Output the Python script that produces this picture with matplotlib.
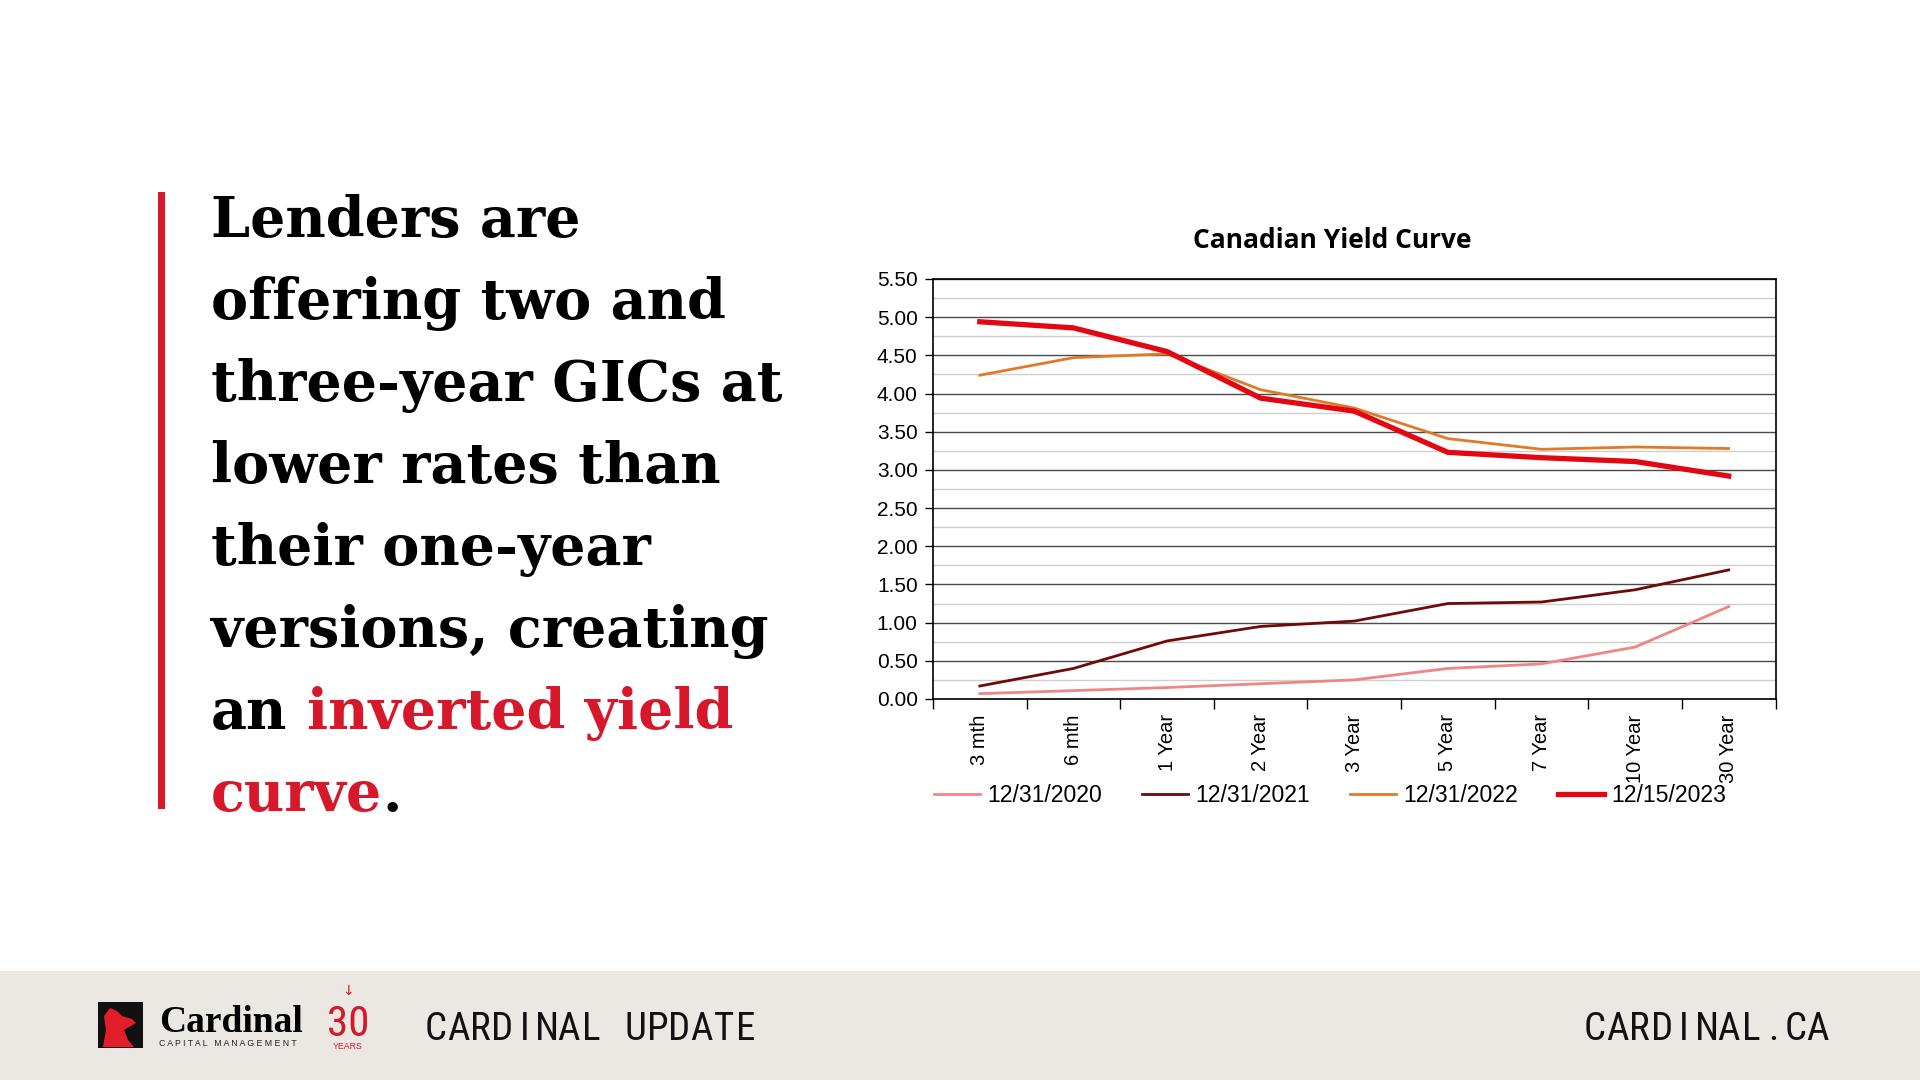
import matplotlib
matplotlib.use("Agg")
import matplotlib.pyplot as plt
import numpy as np
from matplotlib import font_manager as fm
from matplotlib.patches import Rectangle, Polygon

# data
maturities = ["3 mth", "6 mth", "1 Year", "2 Year", "3 Year", "5 Year", "7 Year", "10 Year", "30 Year"]
series_names = ["12/31/2020", "12/31/2021", "12/31/2022", "12/15/2023"]
y_2020 = [0.07, 0.11, 0.15, 0.20, 0.25, 0.40, 0.46, 0.68, 1.21]
y_2021 = [0.17, 0.40, 0.76, 0.95, 1.02, 1.25, 1.27, 1.43, 1.69]
y_2022 = [4.24, 4.47, 4.52, 4.05, 3.81, 3.41, 3.27, 3.30, 3.28]
y_2023 = [4.94, 4.86, 4.55, 3.94, 3.77, 3.23, 3.16, 3.11, 2.92]

headline = [
    "Lenders are",
    "offering two and",
    "three-year GICs at",
    "lower rates than",
    "their one-year",
    "versions, creating",
]

W, H = 1920, 1080
RED = "#d7182a"


def fx(x):
    return x / W


def fy(y):
    return 1 - y / H


def find_condensed():
    """Pick a condensed/narrow sans face if one is installed (no mono, no italic)."""
    prefs = ["notosans-extracondensedmedium.", "notosans-extracondensed.",
             "notosans-condensedmedium.", "notosans-condensed.",
             "liberationsansnarrow-regular", "robotocondensed-regular",
             "opensans-condensedmedium", "opensans-condensed", "dejavusanscondensed.ttf",
             "condensed", "narrow"]
    files = []
    for f in fm.fontManager.ttflist:
        low = f.fname.lower().replace(" ", "").replace("_", "-")
        if any(k in low for k in ("mono", "italic", "oblique", "serif")):
            continue
        files.append((low.rsplit("/", 1)[-1], f.fname))
    for p in prefs:
        for short, path in files:
            if p in short:
                return path
    return None


cond_file = find_condensed()


def cond_props(size):
    if cond_file:
        return fm.FontProperties(fname=cond_file, size=size)
    return fm.FontProperties(family="DejaVu Sans", size=size * 0.75)


fig = plt.figure(figsize=(19.2, 10.8), dpi=100)
fig.patch.set_facecolor("white")
renderer = fig.canvas.get_renderer()

# ---------------------------------------------------------------------------
# headline
# ---------------------------------------------------------------------------
fig.add_artist(Rectangle((fx(158), fy(809)), 7 / W, (809 - 192) / H,
                         transform=fig.transFigure, color=RED, lw=0))

serif = ["DejaVu Serif"]
hsize = 37
x0 = fx(211)
base = 237
step = 82

# fit font size to the widest line
probe = fig.text(0, 0, "three-year GICs at", fontsize=hsize, family=serif, weight="bold")
wpx = probe.get_window_extent(renderer).width
probe.remove()
hsize = hsize * 572 / wpx

for i, line in enumerate(headline):
    fig.text(x0, fy(base + i * step), line, fontsize=hsize, family=serif,
             weight="bold", color="black", ha="left", va="baseline")

# "an inverted yield" with red part
yl = fy(base + 6 * step)
full = fig.text(x0, yl, "an inverted yield", fontsize=hsize, family=serif,
                weight="bold", ha="left", va="baseline")
right = full.get_window_extent(renderer).x1 / W
full.remove()
fig.text(x0, yl, "an", fontsize=hsize, family=serif, weight="bold",
         color="black", ha="left", va="baseline")
fig.text(right, yl, "inverted yield", fontsize=hsize, family=serif, weight="bold",
         color=RED, ha="right", va="baseline")

# "curve." with black period
yl = fy(base + 7 * step)
full = fig.text(x0, yl, "curve.", fontsize=hsize, family=serif,
                weight="bold", ha="left", va="baseline")
right = full.get_window_extent(renderer).x1 / W
full.remove()
fig.text(x0, yl, "curve", fontsize=hsize, family=serif, weight="bold",
         color=RED, ha="left", va="baseline")
fig.text(right, yl, ".", fontsize=hsize, family=serif, weight="bold",
         color="black", ha="right", va="baseline")

# ---------------------------------------------------------------------------
# chart
# ---------------------------------------------------------------------------
ax = fig.add_axes([fx(933), fy(699), (1775.5 - 933) / W, (699 - 279) / H])
x = np.arange(len(maturities))

styles = [
    (y_2020, "#ef8585", 2.0),
    (y_2021, "#6e0a0a", 2.0),
    (y_2022, "#e07a25", 2.0),
    (y_2023, "#e30613", 3.8),
]
for (vals, col, lw), name in zip(styles, series_names):
    ax.plot(x, vals, color=col, lw=lw, label=name, solid_joinstyle="round")

ax.set_xlim(-0.5, len(maturities) - 0.5)
ax.set_ylim(0, 5.5)
ax.set_yticks(np.arange(0, 5.51, 0.5))
ax.set_yticks(np.arange(0.25, 5.5, 0.5), minor=True)
ax.set_yticklabels([f"{v:.2f}" for v in np.arange(0, 5.51, 0.5)],
                   family="Liberation Sans", fontsize=15)
ax.set_xticks(x)
ax.set_xticklabels(maturities, rotation=90, family="Liberation Sans", fontsize=14.5)
ax.set_xticks(np.arange(-0.5, len(maturities), 1), minor=True)
ax.tick_params(axis="x", which="major", length=0, pad=11)
ax.tick_params(axis="x", which="minor", length=7, width=1, direction="out")
ax.tick_params(axis="y", which="major", length=6, width=1, direction="out", pad=5)
ax.tick_params(axis="y", which="minor", length=0)
ax.grid(which="major", axis="y", color="#4a4a4a", lw=1)
ax.grid(which="minor", axis="y", color="#cfcfcf", lw=1)
ax.set_axisbelow(True)
for s in ax.spines.values():
    s.set_color("black")
    s.set_linewidth(1.2)

fig.text(fx(1332), fy(240), "Canadian Yield Curve", family="Open Sans",
         weight="bold", fontsize=19, ha="center", va="center")

fig.legend(loc="center", bbox_to_anchor=(fx(1330), fy(796)), ncol=4, frameon=False,
           prop={"family": "Liberation Sans", "size": 16.6}, handlelength=2.0,
           handletextpad=0.3, columnspacing=1.75)

# ---------------------------------------------------------------------------
# footer
# ---------------------------------------------------------------------------
fig.add_artist(Rectangle((0, 0), 1, (1080 - 971) / H, transform=fig.transFigure,
                         color="#ebe7e3", lw=0, zorder=0))

# logo mark
fig.add_artist(Rectangle((fx(98), fy(1048)), 45 / W, 46 / H,
                         transform=fig.transFigure, color="#111111", lw=0))
bird = [(103, 1047), (106, 1030), (104, 1016), (110, 1008), (117, 1011),
        (122, 1016), (132, 1019), (136, 1023), (129, 1027), (124, 1030),
        (128, 1040), (134, 1047)]
fig.add_artist(Polygon([(fx(a), fy(b)) for a, b in bird], closed=True,
                       transform=fig.transFigure, color="#e41d2d", lw=0))

fig.text(fx(159), fy(1032), "Cardinal", family="Liberation Serif", weight="bold",
         fontsize=27, ha="left", va="baseline")
fig.text(fx(159), fy(1046), "C A P I T A L   M A N A G E M E N T",
         family="Liberation Sans", fontsize=6.3, ha="left", va="baseline", color="#222222")
fig.text(fx(348), fy(1036), "30", fontproperties=cond_props(31),
         color=RED, ha="center", va="baseline")
fig.text(fx(348), fy(1049), "YEARS", family="Liberation Sans", fontsize=6.3,
         color=RED, ha="center", va="baseline")
fig.text(fx(348), fy(991), "\u2193", family="DejaVu Sans", fontsize=10,
         color=RED, ha="center", va="center")


def spaced(text, xl, xr, y, size):
    n = len(text)
    adv = (xr - xl) / n
    for i, ch in enumerate(text):
        fig.text(fx(xl + adv * (i + 0.5)), fy(y), ch, fontproperties=cond_props(size),
                 color="#111111", ha="center", va="baseline")


spaced("CARDINAL UPDATE", 425, 757, 1040, 28)
spaced("CARDINAL.CA", 1584, 1829, 1040, 28)

fig.savefig("out.png", dpi=100)
